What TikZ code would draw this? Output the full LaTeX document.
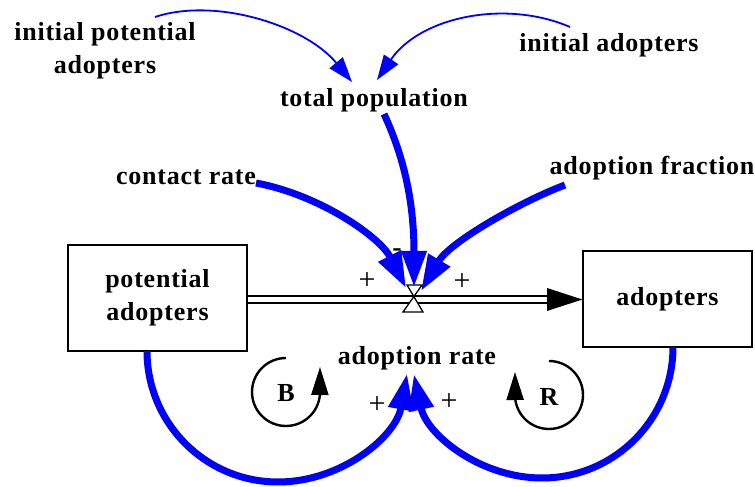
\documentclass[tikz,border=0pt]{standalone}
\usepackage{fontspec}
\setmainfont{Liberation Serif}[LetterSpace=3]
\usetikzlibrary{arrows.meta}
\definecolor{vblue}{RGB}{0,0,255}
\begin{document}
\begin{tikzpicture}[x=1pt,y=1pt,
 lbl/.style={font=\fontsize{26}{33}\selectfont\bfseries, align=center, inner sep=0pt},
 sign/.style={font=\fontsize{30}{30}\selectfont, inner sep=0pt},
 stock/.style={draw, line width=1.3pt, font=\fontsize{26}{33}\selectfont\bfseries, align=center, inner sep=0pt},
 thinlink/.style={draw=vblue, line width=1.8pt, -{Triangle[length=25pt,width=17pt]}},
 thicklink/.style={draw=vblue, line width=7pt, -{Triangle[length=36pt,width=24pt]}},
 loopline/.style={line width=2.4pt, -{Triangle[length=28pt,width=17pt]}}]
\useasboundingbox (0,0) rectangle (755,487);
% labels
\node[lbl] (ipa) at (105,436) {initial potential\\adopters};
\node[lbl] (ia) at (609,442) {initial adopters};
\node[lbl] (tp) at (374,387) {total population};
\node[lbl] (cr) at (186,310) {contact rate};
\node[lbl] (af) at (652,319) {adoption fraction};
\node[lbl] (ar) at (417,129) {adoption rate};
% stocks
\node[stock, minimum width=179pt, minimum height=106pt] (pa) at (157.5,189) {potential\\adopters};
\node[stock, minimum width=169pt, minimum height=96pt] (ad) at (667.5,188) {adopters};
% pipe
\draw[line width=1.3pt, double distance=5.7pt] (pa.east |- 0,187.5) -- (547,187.5);
\fill (547,199) -- (ad.west |- 0,187.5) -- (547,176) -- cycle;
% valve
\coordinate (valve) at (414,188);
\draw[line width=1.3pt, fill=white] (407,202) -- (422,202) -- (403,175) -- (423,175) -- cycle;
% anchor points
\coordinate (vL) at (406,199);
\coordinate (vM) at (414,200);
\coordinate (vR) at (421,196);
\coordinate (ipaS) at (155,470);
\coordinate (iaS) at (570,460);
\coordinate (tpT) at (352,405);
\coordinate (tpT2) at (377,407);
\coordinate (tpS) at (384,373);
\coordinate (crS) at (256,304);
\coordinate (afS) at (565,302);
\coordinate (paB) at (147,136);
\coordinate (adB) at (673,140);
% thin links
\draw[thinlink] (ipaS) .. controls (215,490) and (305,462) .. (tpT);
\draw[thinlink] (iaS) .. controls (505,488) and (420,470) .. (tpT2);
% thick links to valve
\draw[thicklink] (tpS) .. controls (404,330) and (414,285) .. (vM);
\draw[thicklink] (crS) .. controls (320,292) and (380,250) .. (vL);
\draw[thicklink] (afS) .. controls (520,285) and (450,245) .. (vR);
% thick links to adoption rate
\draw[thicklink] (paB) arc[start angle=180, end angle=350, radius=131];
\draw[thicklink] (adB) arc[start angle=0, end angle=-168, radius=131];
% signs
\node[sign] at (367,206) {+};
\node[sign] at (462,205) {+};
\node[sign, font=\fontsize{28}{28}\selectfont\bfseries] at (397,234) {-};
\node[sign] at (377,82) {+};
\node[sign] at (449,85) {+};
% loops
\node[lbl] (B) at (286,94) {B};
\node[lbl] (R) at (549,90) {R};
\draw[loopline] (286,129) arc[start angle=90, end angle=355, radius=34] -- (320,120);
\draw[loopline] (549,126) arc[start angle=90, end angle=-175, radius=34] -- (515,115);
\end{tikzpicture}
\end{document}
